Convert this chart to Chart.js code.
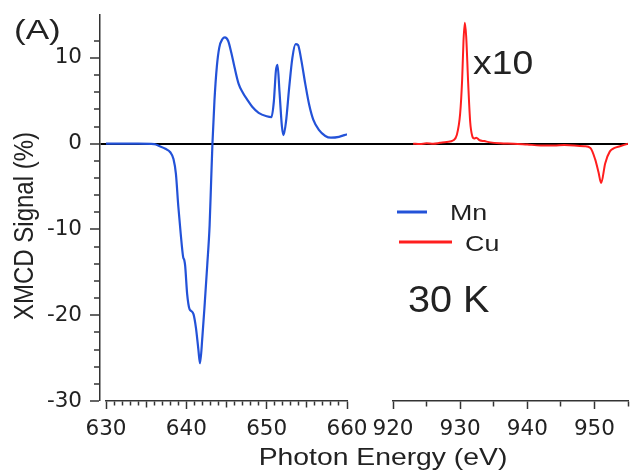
<!DOCTYPE html>
<html><head><meta charset="utf-8">
<script src="https://cdn.jsdelivr.net/npm/chart.js@4"></script>
<style>html,body{margin:0;padding:0;background:#fff}canvas{display:block}</style>
</head><body>
<canvas id="c" width="630" height="472"></canvas>
<script>
// Mn L-edge XMCD (eV, %)
const mnEnergy = [630, 632, 634, 636, 636.7, 637.4, 638.0, 638.4, 638.7, 639.0, 639.3, 639.6, 639.75, 639.85, 640.1, 640.4, 640.6, 640.9, 641.2, 641.5, 641.7, 642.0, 642.3, 642.6, 642.9, 643.1, 643.25, 643.5, 643.8, 644.1, 644.5, 644.8, 645.2, 645.6, 646.0, 646.5, 647.0, 647.6, 648.2, 649.0, 650.0, 650.6, 650.9, 651.15, 651.35, 651.6, 651.9, 652.1, 652.4, 652.8, 653.2, 653.6, 653.9, 654.3, 654.8, 655.3, 655.8, 656.5, 657.3, 658.0, 659.0, 660.0];
const mnSignal = [0, 0, 0, -0.05, -0.3, -0.6, -1.0, -1.8, -3.5, -7.3, -10.5, -13.2, -13.6, -14.2, -17.5, -19.3, -19.5, -19.9, -21.5, -24.0, -25.6, -22.5, -18.5, -14.2, -9.5, -4.0, 0, 5.0, 9.0, 11.2, 12.2, 12.4, 12.0, 10.6, 8.9, 7.0, 6.0, 5.1, 4.3, 3.6, 3.2, 3.1, 5.0, 8.5, 9.2, 6.0, 2.0, 1.0, 2.5, 6.5, 10.0, 11.6, 11.5, 9.8, 7.0, 4.5, 2.8, 1.6, 0.9, 0.7, 0.8, 1.1];
// Cu L-edge XMCD x10 (eV, %)
const cuEnergy = [923, 924, 925, 926, 927, 928, 929, 929.5, 930.0, 930.3, 930.5, 930.7, 930.9, 931.2, 931.5, 931.8, 932.1, 932.4, 932.9, 933.6, 934.5, 936, 938, 940, 942, 944, 945.5, 947, 948.5, 949.4, 950.1, 950.6, 951.0, 951.6, 952.3, 953.0, 953.8, 955];
const cuSignal = [0, -0.05, 0.05, 0, 0.1, 0.2, 0.4, 1.0, 3.5, 7.5, 12, 14.1, 12.5, 7, 2.5, 0.9, 0.6, 0.7, 0.4, 0.3, 0.15, 0.05, 0, -0.1, -0.2, -0.2, -0.15, -0.2, -0.3, -0.5, -1.8, -3.3, -4.6, -2.3, -0.9, -0.5, -0.3, 0];

const seriesNames = ['Mn', 'Cu'];
const yTickLabels = [-30, -20, -10, 0, 10];
const mnTickLabels = [630, 640, 650, 660];
const cuTickLabels = [920, 930, 940, 950];

const FONT = "'Liberation Sans', Arial, sans-serif";
const TICKFONT = "'DejaVu Sans', 'Liberation Sans', sans-serif";
const AXIS = '#333';
const TXT = '#222';
const BLUE = '#2352d8';
const RED = '#ff1e1e';
const XAXIS_H = 71;

function pts(xs, ys) { return xs.map((x, i) => ({x: x, y: ys[i]})); }
function zeroPad(s) { s.paddingLeft = 0; s.paddingRight = 0; s.paddingTop = 0; s.paddingBottom = 0; }
function tv(c) { return c && c.tick ? c.tick.value : null; }

function spacer(w, order) {
  return {
    type: 'linear', position: 'bottom', stack: 'energy', stackWeight: w, weight: order,
    display: true, grid: {display: false}, border: {display: false}, ticks: {display: false},
    afterFit: s => { s.height = XAXIS_H; zeroPad(s); }
  };
}

// text drawn slightly widened, as in the reference picture
function wideText(c, txt, x, y, size, sx, align) {
  c.save();
  c.font = size + 'px ' + FONT;
  c.textAlign = align || 'left';
  c.translate(x, y);
  c.scale(sx, 1);
  c.fillText(txt, 0, 0);
  c.restore();
}

const annot = {
  id: 'annot',
  afterDraw(chart) {
    const c = chart.ctx;
    c.save();
    c.fillStyle = TXT;
    c.textBaseline = 'alphabetic';
    wideText(c, '(A)', 14, 39, 27, 1.3);
    wideText(c, 'x10', 473, 74, 33, 1.13);
    wideText(c, '30 K', 408, 312, 36, 1.1);
    // legend
    c.lineWidth = 3;
    c.strokeStyle = chart.data.datasets[0].borderColor;
    c.beginPath(); c.moveTo(397, 212); c.lineTo(427, 212); c.stroke();
    c.strokeStyle = chart.data.datasets[1].borderColor;
    c.beginPath(); c.moveTo(399, 242); c.lineTo(452, 242); c.stroke();
    wideText(c, seriesNames[0], 450, 220, 22, 1.22);
    wideText(c, seriesNames[1], 465, 251, 22, 1.22);
    // axis titles
    wideText(c, 'Photon Energy (eV)', 383, 465, 24, 1.18, 'center');
    c.save();
    c.font = '24px ' + FONT;
    c.textAlign = 'center';
    c.translate(33, 226);
    c.rotate(-Math.PI / 2);
    c.scale(1, 1.15);
    c.fillText('XMCD Signal (%)', 0, 0);
    c.restore();
    c.restore();
  }
};

new Chart(document.getElementById('c'), {
  type: 'line',
  data: {
    datasets: [
      {label: seriesNames[0], data: pts(mnEnergy, mnSignal), xAxisID: 'xMn', yAxisID: 'y',
       borderColor: BLUE, borderWidth: 2.2, pointRadius: 0, fill: false, cubicInterpolationMode: 'monotone'},
      {label: seriesNames[1], data: pts(cuEnergy, cuSignal), xAxisID: 'xCu', yAxisID: 'y',
       borderColor: RED, borderWidth: 2, pointRadius: 0, fill: false, cubicInterpolationMode: 'monotone'}
    ]
  },
  options: {
    responsive: false,
    devicePixelRatio: 1,
    animation: false,
    layout: {padding: {left: 0, right: 2, top: 15, bottom: 0}, autoPadding: false},
    plugins: {legend: {display: false}, tooltip: {enabled: false}},
    scales: {
      y: {
        type: 'linear', position: 'left', min: -30, max: 15, weight: 0,
        afterBuildTicks: s => { s.ticks = s.ticks.filter(t => t.value <= 14); },
        ticks: {stepSize: 2, autoSkip: false, padding: 8, color: TXT, font: {family: TICKFONT, size: 21.5},
                callback: v => yTickLabels.includes(v) ? String(v) : ''},
        grid: {display: true, drawOnChartArea: true, drawTicks: true, tickLength: 10,
               color: '#000', lineWidth: c => tv(c) === 0 ? 2 : 0,
               tickWidth: 1.5, tickColor: AXIS,
               tickBorderDash: c => (tv(c) !== null && tv(c) % 10 !== 0) ? [6, 4] : [],
               tickBorderDashOffset: c => (tv(c) !== null && tv(c) % 10 !== 0) ? 6 : 0},
        border: {display: true, color: AXIS, width: 1.5},
        afterFit: s => { s.width = 100; zeroPad(s); }
      },
      xPad: spacer(6, 1),
      xMn: {
        type: 'linear', position: 'bottom', stack: 'energy', stackWeight: 241, weight: 2,
        min: 630, max: 660,
        ticks: {stepSize: 1, autoSkip: false, maxRotation: 0, minRotation: 0, padding: 8, color: TXT,
                font: {family: TICKFONT, size: 21.5},
                callback: v => mnTickLabels.includes(v) ? String(v) : ''},
        grid: {display: true, drawOnChartArea: false, drawTicks: true, tickLength: 8, tickWidth: 1.5, tickColor: AXIS,
               tickBorderDash: c => { const v = tv(c); if (v === null || v % 10 === 0) return []; return v % 5 === 0 ? [6, 20] : [4, 20]; }},
        border: {display: true, color: AXIS, width: 1.5},
        afterFit: s => { s.height = XAXIS_H; zeroPad(s); }
      },
      xGap: spacer(46, 3),
      xCu: {
        type: 'linear', position: 'bottom', stack: 'energy', stackWeight: 235, weight: 4,
        min: 920, max: 955,
        ticks: {stepSize: 5, autoSkip: false, maxRotation: 0, minRotation: 0, padding: 8, color: TXT,
                font: {family: TICKFONT, size: 21.5},
                callback: v => cuTickLabels.includes(v) ? String(v) : ''},
        grid: {display: true, drawOnChartArea: false, drawTicks: true, tickLength: 8, tickWidth: 1.5, tickColor: AXIS,
               tickBorderDash: c => { const v = tv(c); if (v === null || v % 10 === 0) return []; return [5, 20]; }},
        border: {display: true, color: AXIS, width: 1.5},
        afterFit: s => { s.height = XAXIS_H; zeroPad(s); }
      }
    }
  },
  plugins: [annot]
});
</script>
</body></html>
